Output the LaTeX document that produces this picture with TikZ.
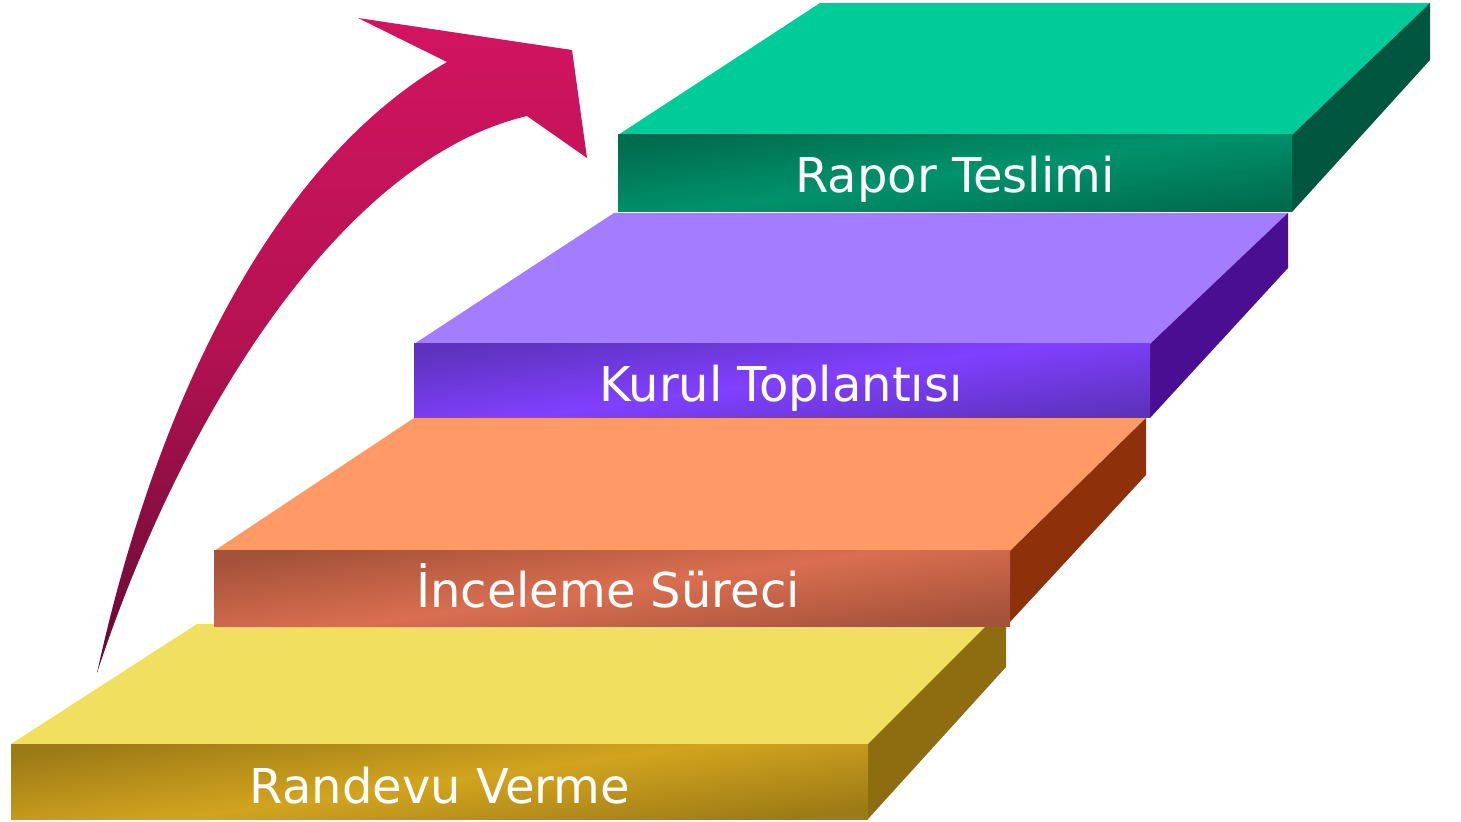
\documentclass[tikz,border=0pt]{standalone}
\usepackage{fontspec}
\setmainfont{DejaVu Sans}
\definecolor{yelTop}{RGB}{241,224,96}
\definecolor{yelDark}{RGB}{156,122,22}
\definecolor{yelLight}{RGB}{210,164,30}
\definecolor{yelSide}{RGB}{142,108,16}
\definecolor{orTop}{RGB}{255,153,102}
\definecolor{orDark}{RGB}{164,82,58}
\definecolor{orLight}{RGB}{218,110,80}
\definecolor{orSide}{RGB}{142,48,10}
\definecolor{puTop}{RGB}{164,124,255}
\definecolor{puDark}{RGB}{94,50,190}
\definecolor{puLight}{RGB}{128,64,255}
\definecolor{puSide}{RGB}{74,14,146}
\definecolor{grTop}{RGB}{0,204,153}
\definecolor{grDark}{RGB}{0,108,78}
\definecolor{grLight}{RGB}{0,146,108}
\definecolor{grSide}{RGB}{0,86,62}
\definecolor{arrTop}{RGB}{210,20,96}
\definecolor{arrMid}{RGB}{180,18,82}
\definecolor{arrBot}{RGB}{100,10,51}
\tikzset{
	stepfront/.style 2 args={
		top color=#1, bottom color=#1, middle color=#2, shading angle=8},
	steplabel/.style={
		text=white, font=\fontsize{24}{28}\selectfont, inner sep=0pt, anchor=base}
}

\begin{document}
\begin{tikzpicture}[x=0.5pt,y=-0.5pt]
\useasboundingbox (0,0) rectangle (1461,822);

% Randevu Verme
\fill[yelTop] (11,744) -- (868,744) -- (1006,606) -- (214,624) -- (197,624) -- cycle;
\fill[yelSide] (868,744) -- (1006,606) -- (1006,667) -- (868,819) -- cycle;
\shade[stepfront={yelDark}{yelLight}] (11,744) rectangle (868,819);

% Inceleme Sureci
\fill[orTop] (214,551) -- (1010,551) -- (1146,418) -- (414,418) -- cycle;
\fill[orSide] (1010,551) -- (1146,418) -- (1146,475) -- (1010,622) -- cycle;
\shade[stepfront={orDark}{orLight}] (214,551) rectangle (1010,627);

% Kurul Toplantisi
\fill[puTop] (414,344) -- (1150,344) -- (1288,213) -- (614,213) -- cycle;
\fill[puSide] (1150,344) -- (1288,213) -- (1288,268) -- (1150,418) -- cycle;
\shade[stepfront={puDark}{puLight}] (414,344) rectangle (1150,418);

% Rapor Teslimi
\fill[grTop] (618,135) -- (1292,135) -- (1430,3) -- (820,3) -- cycle;
\fill[grSide] (1292,135) -- (1430,3) -- (1430,60) -- (1292,212) -- cycle;
\shade[stepfront={grDark}{grLight}] (618,135) rectangle (1292,212);

\node[steplabel] (randevu) at (440,803) {Randevu Verme};
\node[steplabel] (inceleme) at (608,608) {İnceleme Süreci};
\node[steplabel] (kurul) at (781,402) {Kurul Toplantısı};
\node[steplabel] (rapor) at (955,193) {Rapor Teslimi};

% arrow
\shade[top color=arrTop, bottom color=arrBot, middle color=arrMid]
	(97,673) .. controls (150,430) and (260,170) .. (447,62)
	-- (358,18) -- (572,50) -- (587,158) -- (527,116)
	.. controls (340,160) and (180,420) .. (97,673) -- cycle;

\end{tikzpicture}
\end{document}
